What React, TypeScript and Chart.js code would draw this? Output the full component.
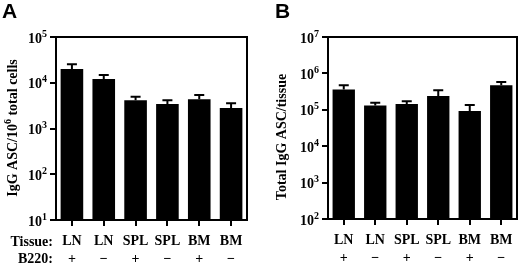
import React, { useEffect, useRef } from "react";
import { Chart, registerables } from "chart.js";
Chart.register(...registerables);

const tissues = ["LN", "LN", "SPL", "SPL", "BM", "BM"];
const b220 = ["+", "−", "+", "−", "+", "−"];
const ascPerMillion = [20000, 12100, 4130, 3430, 4370, 2800];
const ascPerMillionErr = [25300, 14800, 4950, 4170, 5370, 3550];
const totalAsc = [361000, 131000, 145000, 240000, 93000, 473000];
const totalAscErr = [473000, 155000, 172000, 345000, 136000, 582000];
const ticksA = [1e1, 1e2, 1e3, 1e4, 1e5];
const ticksB = [1e2, 1e3, 1e4, 1e5, 1e6, 1e7];

const SERIF = "'Liberation Serif', 'Times New Roman', serif";
const SANS = "'Liberation Sans', Arial, sans-serif";

type Part = { text: string; sup?: boolean };

type PanelCfg = {
  letter: string;
  letterX: number;
  title: Part[];
  titleX: number;
  titleY: number;
  values: number[];
  errs: number[];
  ticks: number[];
  yWidth: number;
  padRight: number;
  top: number;
  bottom: number;
  rowLabels: boolean;
};

// draws a run of text with superscript parts, centred horizontally at 0 and vertically at 0
function drawRich(ctx: CanvasRenderingContext2D, parts: Part[], size: number, supSize: number, align: "center" | "right") {
  const fonts = parts.map((p) => `bold ${p.sup ? supSize : size}px ${SERIF}`);
  const widths = parts.map((p, i) => {
    ctx.font = fonts[i];
    return ctx.measureText(p.text).width;
  });
  const total = widths.reduce((a, b) => a + b, 0);
  let x = align === "center" ? -total / 2 : -total;
  ctx.textAlign = "left";
  ctx.textBaseline = "middle";
  parts.forEach((p, i) => {
    ctx.font = fonts[i];
    ctx.fillText(p.text, x, p.sup ? -4 : 1);
    x += widths[i];
  });
}

function makeChart(canvas: HTMLCanvasElement, cfg: PanelCfg) {
  const H = 265;
  const labels = tissues.map((t, i) => [t, b220[i]]);
  const plugin = {
    id: "decor" + cfg.letter,
    afterDatasetsDraw(chart: any) {
      const ctx = chart.ctx;
      const y = chart.scales.y;
      const meta = chart.getDatasetMeta(0);
      ctx.save();
      ctx.strokeStyle = "#000";
      ctx.lineWidth = 2;
      meta.data.forEach((bar: any, i: number) => {
        const ey = y.getPixelForValue(cfg.errs[i]);
        ctx.beginPath();
        ctx.moveTo(bar.x, bar.y);
        ctx.lineTo(bar.x, ey);
        ctx.moveTo(bar.x - 5, ey);
        ctx.lineTo(bar.x + 5, ey);
        ctx.stroke();
      });
      ctx.restore();
    },
    afterDraw(chart: any) {
      const ctx = chart.ctx;
      const a = chart.chartArea;
      const y = chart.scales.y;
      ctx.save();
      ctx.strokeStyle = "#000";
      ctx.lineWidth = 2;
      ctx.beginPath();
      ctx.moveTo(a.left - 1, a.top);
      ctx.lineTo(a.right, a.top);
      ctx.lineTo(a.right, a.bottom + 1);
      ctx.stroke();
      ctx.fillStyle = "#000";
      // y tick labels as 10 with raised exponent
      y.ticks.forEach((t: any) => {
        const py = y.getPixelForValue(t.value);
        const exp = String(Math.round(Math.log10(t.value)));
        ctx.save();
        ctx.translate(a.left - 9, py + 1);
        drawRich(ctx, [{ text: "10" }, { text: exp, sup: true }], 14, 10, "right");
        ctx.restore();
      });
      // panel letter
      ctx.font = `bold 21px ${SANS}`;
      ctx.textAlign = "left";
      ctx.textBaseline = "alphabetic";
      ctx.fillText(cfg.letter, cfg.letterX, 18);
      // y title
      ctx.save();
      ctx.translate(cfg.titleX, cfg.titleY);
      ctx.rotate(-Math.PI / 2);
      drawRich(ctx, cfg.title, 14, 10, "center");
      ctx.restore();
      if (cfg.rowLabels) {
        ctx.font = `bold 14px ${SERIF}`;
        ctx.textAlign = "right";
        ctx.textBaseline = "middle";
        ctx.fillText("Tissue:", 53, a.bottom + 22);
        ctx.fillText("B220:", 53, a.bottom + 39);
      }
      ctx.restore();
    },
  };
  return new Chart(canvas, {
    type: "bar",
    data: {
      labels,
      datasets: [
        {
          data: cfg.values,
          backgroundColor: "#000",
          borderWidth: 0,
          barPercentage: 0.71,
          categoryPercentage: 1,
        },
      ],
    },
    options: {
      animation: false,
      responsive: false,
      devicePixelRatio: 1,
      layout: { padding: { left: 0, right: cfg.padRight, top: cfg.top, bottom: 0 } },
      plugins: { legend: { display: false }, tooltip: { enabled: false }, title: { display: false } },
      scales: {
        x: {
          type: "category",
          offset: true,
          afterFit(scale: any) {
            scale.height = H - cfg.bottom;
          },
          grid: {
            offset: false,
            drawOnChartArea: false,
            drawTicks: true,
            tickLength: 6,
            color: "#000",
            lineWidth: 2,
          },
          border: { display: true, color: "#000", width: 2 },
          ticks: {
            autoSkip: false,
            maxRotation: 0,
            padding: 7,
            color: "#000",
            font: { family: SERIF, weight: "bold", size: 14, lineHeight: 1.25 },
          },
        },
        y: {
          type: "logarithmic",
          min: cfg.ticks[0],
          max: cfg.ticks[cfg.ticks.length - 1],
          afterFit(scale: any) {
            scale.width = cfg.yWidth;
          },
          afterBuildTicks(scale: any) {
            scale.ticks = cfg.ticks.map((v) => ({ value: v }));
          },
          grid: {
            drawOnChartArea: false,
            drawTicks: true,
            tickLength: 6,
            color: "#000",
            lineWidth: 2,
          },
          border: { display: true, color: "#000", width: 2 },
          ticks: { display: false },
        },
      },
    },
    plugins: [plugin],
  } as any);
}

const panelA: PanelCfg = {
  letter: "A",
  letterX: 2,
  title: [{ text: "IgG ASC/10" }, { text: "6", sup: true }, { text: " total cells" }],
  titleX: 12,
  titleY: 128,
  values: ascPerMillion,
  errs: ascPerMillionErr,
  ticks: ticksA,
  yWidth: 56,
  padRight: 13,
  top: 37,
  bottom: 220,
  rowLabels: true,
};

const panelB: PanelCfg = {
  letter: "B",
  letterX: 15,
  title: [{ text: "Total IgG ASC/tissue" }],
  titleX: 21,
  titleY: 137,
  values: totalAsc,
  errs: totalAscErr,
  ticks: ticksB,
  yWidth: 68,
  padRight: 3,
  top: 37,
  bottom: 219,
  rowLabels: false,
};

function Panel({ cfg, left }: { cfg: PanelCfg; left: number }) {
  const ref = useRef<HTMLCanvasElement>(null);
  useEffect(() => {
    if (!ref.current) return;
    const c = makeChart(ref.current, cfg);
    return () => c.destroy();
  }, [cfg]);
  return (
    <canvas
      ref={ref}
      width={260}
      height={265}
      style={{ position: "absolute", left, top: 0, width: 260, height: 265 }}
    />
  );
}

export default function App() {
  return (
    <div style={{ position: "fixed", left: 0, top: 0, width: 520, height: 265, background: "#fff" }}>
      <Panel cfg={panelA} left={0} />
      <Panel cfg={panelB} left={260} />
    </div>
  );
}
